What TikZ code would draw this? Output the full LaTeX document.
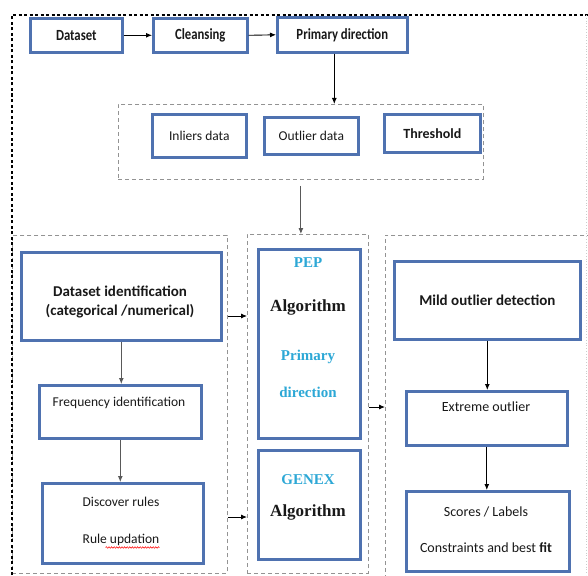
\documentclass[tikz,border=0pt]{standalone}
\usepackage{fontspec}
\setmainfont{Carlito}
\newfontfamily\condfont{Carlito}[FakeStretch=0.82]
\newfontfamily\timesfont{Liberation Serif}
\usetikzlibrary{arrows.meta,calc,decorations.pathmorphing}
\definecolor{boxblue}{RGB}{79,114,176}
\definecolor{pepcyan}{RGB}{45,168,214}
\definecolor{txt}{RGB}{25,25,25}
\newcommand\fTop{\condfont\bfseries\fontsize{15.5}{18}\selectfont}
\newcommand\fReg{\fontsize{13.5}{16}\selectfont}
\newcommand\fBold{\bfseries\fontsize{15}{19}\selectfont}
\newcommand\fTim{\timesfont\bfseries\fontsize{15}{18}\selectfont}
\newcommand\fAlg{\timesfont\bfseries\fontsize{17}{20}\selectfont}
\tikzset{
  box/.style={draw=boxblue, line width=2.6pt, fill=white, inner sep=0pt, anchor=north west, text=txt, align=center},
  grp/.style={draw=gray!85, dash pattern=on 4pt off 3pt, line width=0.8pt, anchor=north west, inner sep=0pt},
  outer/.style={draw=black, dash pattern=on 3pt off 2.5pt, line width=1.2pt},
  lbl/.style={text=txt, inner sep=0pt, align=center},
  arr/.style={-{Latex[length=6pt,width=5pt]}, line width=0.9pt, draw=black},
  garr/.style={-{Latex[length=6pt,width=5pt]}, line width=0.9pt, draw=gray!70!black},
  squig/.style={draw=red, line width=0.5pt, decorate, decoration={snake, amplitude=0.8pt, segment length=2.6pt}},
}
\begin{document}
\begin{tikzpicture}[x=1pt,y=-1pt]
\useasboundingbox (0,0) rectangle (588,575);
\fill[white] (0,0) rectangle (588,575);
% groups
\node[grp, minimum width=365, minimum height=75] (g1) at (118,104) {};
\node[grp, minimum width=215, minimum height=338] (gL) at (12,235) {};
\node[grp, minimum width=121, minimum height=339] (gM) at (247,234) {};
\node[grp, minimum width=215, minimum height=350] (gR) at (385,235) {};
% outer frame
\draw[outer] (12,575) -- (12,15) -- (588,15);
\draw[gray!40, dotted, line width=0.8pt] (586,15) -- (586,575);
% top row
\node[box, minimum width=92, minimum height=34, font=\fTop] (ds) at (29,17) {Dataset};
\node[box, minimum width=94, minimum height=34, font=\fTop] (cl) at (152,17) {Cleansing};
\node[box, minimum width=130, minimum height=35, font=\fTop] (pd) at (276,16) {Primary direction};
% group 1
\node[box, minimum width=94, minimum height=43, font=\fReg] (in) at (151,113) {Inliers data};
\node[box, minimum width=94, minimum height=37, font=\fReg] (od) at (263,116) {Outlier data};
\node[box, minimum width=96, minimum height=38, font=\bfseries\fontsize{14}{17}\selectfont] (th) at (383,113) {Threshold};
% left column
\node[box, minimum width=200, minimum height=88] (di) at (20,251) {};
\node[lbl, font=\fBold] (diT) at (120,302) {Dataset identification\\(categorical /numerical)};
\node[box, minimum width=162, minimum height=53] (fi) at (38,384) {};
\node[lbl, font=\fReg] (fiT) at (119,403) {Frequency identification};
\node[box, minimum width=161, minimum height=80] (dr) at (41,482) {};
\node[lbl, font=\fReg] (drT1) at (121,502) {Discover rules};
\node[lbl, font=\fReg] (drT2) at (121,540) {Rule updation};
\draw[squig] ($(drT2.south west)!0.30!(drT2.south east)+(0,1.5)$) -- ($(drT2.south east)+(0,1.5)$);
% middle column
\node[box, minimum width=102, minimum height=189] (pep) at (257,248) {};
\node[lbl, font=\fTim, text=pepcyan] (pepT1) at (308,263) {PEP};
\node[lbl, font=\fAlg] (pepT2) at (308,307) {Algorithm};
\node[lbl, font=\fTim, text=pepcyan] (pepT3) at (308,357) {Primary};
\node[lbl, font=\fTim, text=pepcyan] (pepT4) at (308,392) {direction};
\node[box, minimum width=102, minimum height=109] (gen) at (257,449) {};
\node[lbl, font=\fTim, text=pepcyan] (genT1) at (308,480) {GENEX};
\node[lbl, font=\fAlg] (genT2) at (308,512) {Algorithm};
% right column
\node[box, minimum width=186, minimum height=78, font=\fBold] (mo) at (393,260) {Mild outlier detection};
\node[box, minimum width=161, minimum height=54] (eo) at (405,390) {};
\node[lbl, font=\fontsize{14}{17}\selectfont] (eoT) at (486,407) {Extreme outlier};
\node[box, minimum width=163, minimum height=80] (sc) at (405,490) {};
\node[lbl, font=\fontsize{14}{17}\selectfont] (scT1) at (486,512) {Scores / Labels};
\node[lbl, font=\fontsize{14}{17}\selectfont] (scT2) at (486,548) {Constraints and best \textbf{fit}};
% connectors
\draw[arr] (ds.east) -- (cl.west);
\draw[arr] (cl.east) -- (pd.west);
\draw[arr] ([xshift=-8pt]pd.south) -- ([xshift=-8pt]pd.south |- g1.north);
\draw[garr] ([yshift=-6pt]g1.south) -- (g1.south |- gM.north);
\draw[garr] (di.south) -- (di.south |- fi.north);
\draw[garr] (fi.south) -- (fi.south |- dr.north);
\coordinate (ya) at (0,316);
\coordinate (yb) at (0,517);
\coordinate (yc) at (0,407);
\draw[arr] (gL.east |- ya) -- (gM.west |- ya);
\draw[arr] (gL.east |- yb) -- (gM.west |- yb);
\draw[arr] (gM.east |- yc) -- (gR.west |- yc);
\draw[arr] (mo.south) -- (mo.south |- eo.north);
\draw[arr] (eo.south) -- (eo.south |- sc.north);
\end{tikzpicture}
\end{document}
